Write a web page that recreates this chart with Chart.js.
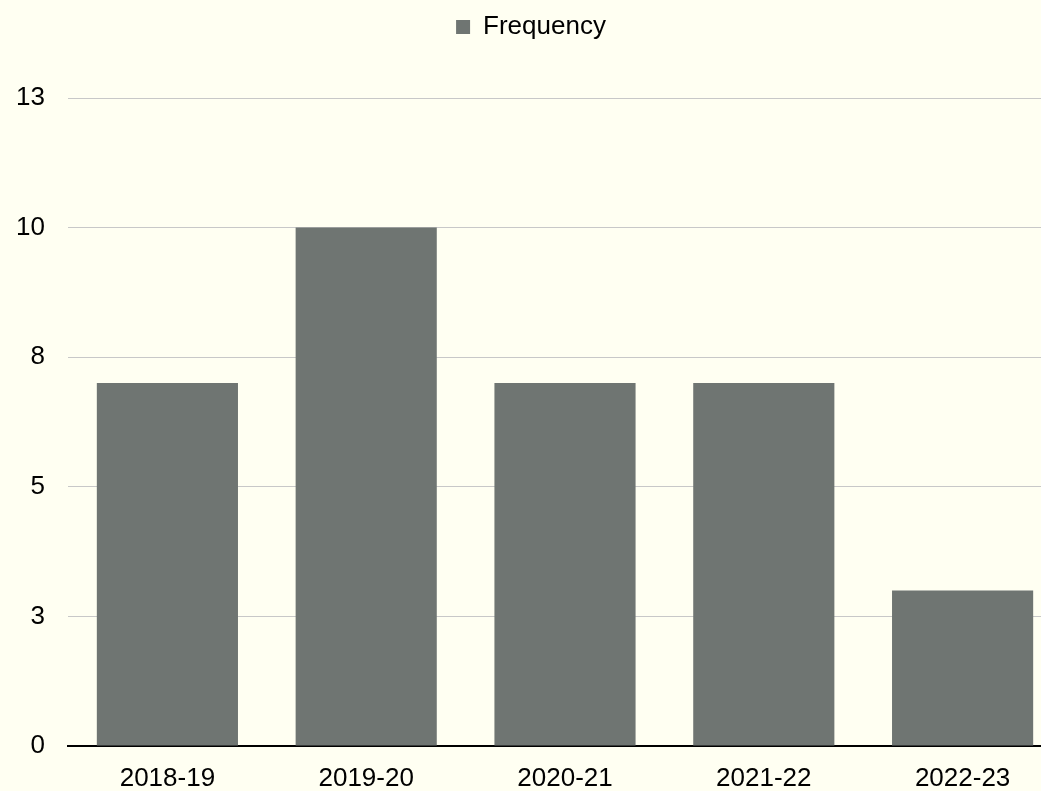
<!DOCTYPE html>
<html>
<head>
<meta charset="utf-8">
<script src="https://cdn.jsdelivr.net/npm/chart.js@4/dist/chart.umd.min.js"></script>
<style>
html,body{margin:0;padding:0;background:#FFFFF2;overflow:hidden;}
#wrap{width:1062px;height:791px;position:relative;}
</style>
</head>
<body>
<div id="wrap"><canvas id="c"></canvas></div>
<script>
const categories = ["2018-19","2019-20","2020-21","2021-22","2022-23"];
const seriesName = "Frequency";
const frequency = [7, 10, 7, 7, 3];
const yTicks = [0, 2.5, 5, 7.5, 10, 12.5];

const legendFit = {
  id: 'legendFit',
  beforeInit(chart) {
    const orig = chart.legend.fit;
    chart.legend.fit = function () {
      orig.bind(chart.legend)();
      this.height = 98;
    };
  }
};

new Chart(document.getElementById('c'), {
  type: 'bar',
  data: {
    labels: categories,
    datasets: [{
      label: seriesName,
      data: frequency,
      backgroundColor: '#6F7572',
      borderWidth: 0,
      categoryPercentage: 1,
      barPercentage: 0.71
    }]
  },
  options: {
    responsive: true,
    maintainAspectRatio: false,
    animation: false,
    layout: { padding: { left: 0, right: 0, top: 0, bottom: 0 } },
    plugins: {
      legend: {
        position: 'top',
        labels: {
          font: { family: 'Liberation Sans, Arial, sans-serif', size: 26 },
          color: '#000',
          boxWidth: 14,
          boxHeight: 14,
          padding: 14
        }
      },
      tooltip: { enabled: false }
    },
    scales: {
      x: {
        grid: { display: false, drawTicks: false },
        border: { display: true, color: '#000', width: 2 },
        ticks: {
          font: { family: 'Liberation Sans, Arial, sans-serif', size: 26 },
          color: '#000',
          padding: 17,
          maxRotation: 0
        },
        afterFit(scale) { scale.height = 45; }
      },
      y: {
        min: 0,
        max: 12.5,
        afterBuildTicks(scale) { scale.ticks = yTicks.map(v => ({ value: v })); },
        grid: { color: '#C8C8C8', lineWidth: 1, drawTicks: false },
        border: { display: false },
        ticks: {
          font: { family: 'Liberation Sans, Arial, sans-serif', size: 26 },
          color: '#000',
          padding: 23,
          callback: v => String(Math.round(v))
        },
        afterFit(scale) { scale.width = 68; }
      }
    }
  },
  plugins: [legendFit]
});
</script>
</body>
</html>
